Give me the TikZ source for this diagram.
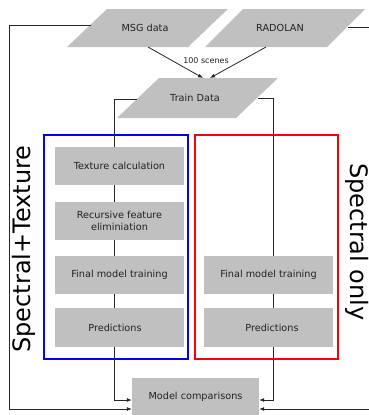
\documentclass[tikz,border=0pt]{standalone}
\usepackage{fontspec}
\setmainfont{DejaVu Sans}
\usetikzlibrary{arrows.meta,calc}
\definecolor{boxgray}{HTML}{C0C0C0}
\definecolor{txt}{HTML}{222222}
\begin{document}
\begin{tikzpicture}[x=1pt,y=-1pt,
  gbox/.style={fill=boxgray, text=txt, minimum width=129pt, minimum height=38pt, inner sep=0pt, align=center, font=\fontsize{9.7}{12.7}\selectfont},
  conn/.style={draw=black!85, line width=0.8pt},
  arr/.style={conn, -{Latex[length=5pt,width=4pt]}},
  para/.style={fill=boxgray},
  lbl/.style={text=txt, font=\fontsize{9.7}{12}\selectfont, inner sep=0pt},
  big/.style={font=\fontsize{24}{24}\selectfont, inner sep=0pt}
]
\useasboundingbox (0,0) rectangle (369,415);

% parallelograms
\fill[para] (107,9) -- (228,9) -- (188,47) -- (67,47) -- cycle;
\fill[para] (243,9) -- (365,9) -- (327,47) -- (205,47) -- cycle;
\fill[para] (159,78) -- (278,78) -- (236,118) -- (117,118) -- cycle;
\node[lbl] (msg) at (145,28) {MSG data};
\node[lbl] (rad) at (280,28) {RADOLAN};
\node[lbl] (train) at (195,98) {Train Data};
\coordinate (msgL) at (91,25);
\coordinate (msgS) at (148,47);
\coordinate (radS) at (266,47);
\coordinate (radR) at (348,27);
\coordinate (trainN1) at (203,78);
\coordinate (trainN2) at (210,78);
\coordinate (trainL) at (137,99);
\coordinate (trainR) at (258,98);

% group frames
\draw[blue, line width=1.3pt] (44,135) rectangle (188,359);
\draw[red, line width=1.3pt] (195,135) rectangle (338,359);

% boxes
\node[gbox] (tex) at (119.5,166) {Texture calculation};
\node[gbox] (rfe) at (119.5,221) {Recursive feature\\eliminiation};
\node[gbox] (fmt1) at (119.5,275) {Final model training};
\node[gbox, minimum height=39pt] (pred1) at (119.5,327.5) {\hspace*{-9pt}Predictions};
\node[gbox] (fmt2) at (268.5,275) {Final model training};
\node[gbox, minimum height=39pt] (pred2) at (268.5,327.5) {\hspace*{7pt}Predictions};
\node[gbox, minimum width=127pt, minimum height=37pt] (mc) at (195.5,396.5) {Model comparisons};

% vertical labels
\node[big, rotate=90] (st) at (24,249) {Spectral+Texture};
\node[big, rotate=-90] (so) at (357,242) {Spectral only};

% connectors
\draw[arr] (msgS) -- (trainN1);
\draw[arr] (radS) -- (trainN2);
\node[text=txt, font=\fontsize{8}{9}\selectfont, inner sep=0pt] (scenes) at (206,61) {100 scenes};

\coordinate (outL) at (9,409);
\coordinate (outR) at (380,409);
\draw[arr] (msgL) -| (outL) -- (outL -| mc.west);
\draw[arr] (radR) -| (outR) -- (outR -| mc.east);

\draw[conn] (trainL) -| ([xshift=-5.5pt]tex.north);
\draw[conn] ([xshift=-5.5pt]tex.south) -- ([xshift=-5.5pt]rfe.north);
\draw[conn] ([xshift=-5.5pt]rfe.south) -- ([xshift=-5.5pt]fmt1.north);
\draw[conn] ([xshift=-5.5pt]fmt1.south) -- ([xshift=-5.5pt]pred1.north);
\draw[arr] ([xshift=-5.5pt]pred1.south) |- ($(mc.west)+(0,3.5)$);

\draw[conn] (trainR) -| ([xshift=4.5pt]fmt2.north);
\draw[conn] ([xshift=4.5pt]fmt2.south) -- ([xshift=4.5pt]pred2.north);
\draw[arr] ([xshift=4.5pt]pred2.south) |- ($(mc.east)+(0,3.5)$);
\end{tikzpicture}
\end{document}
